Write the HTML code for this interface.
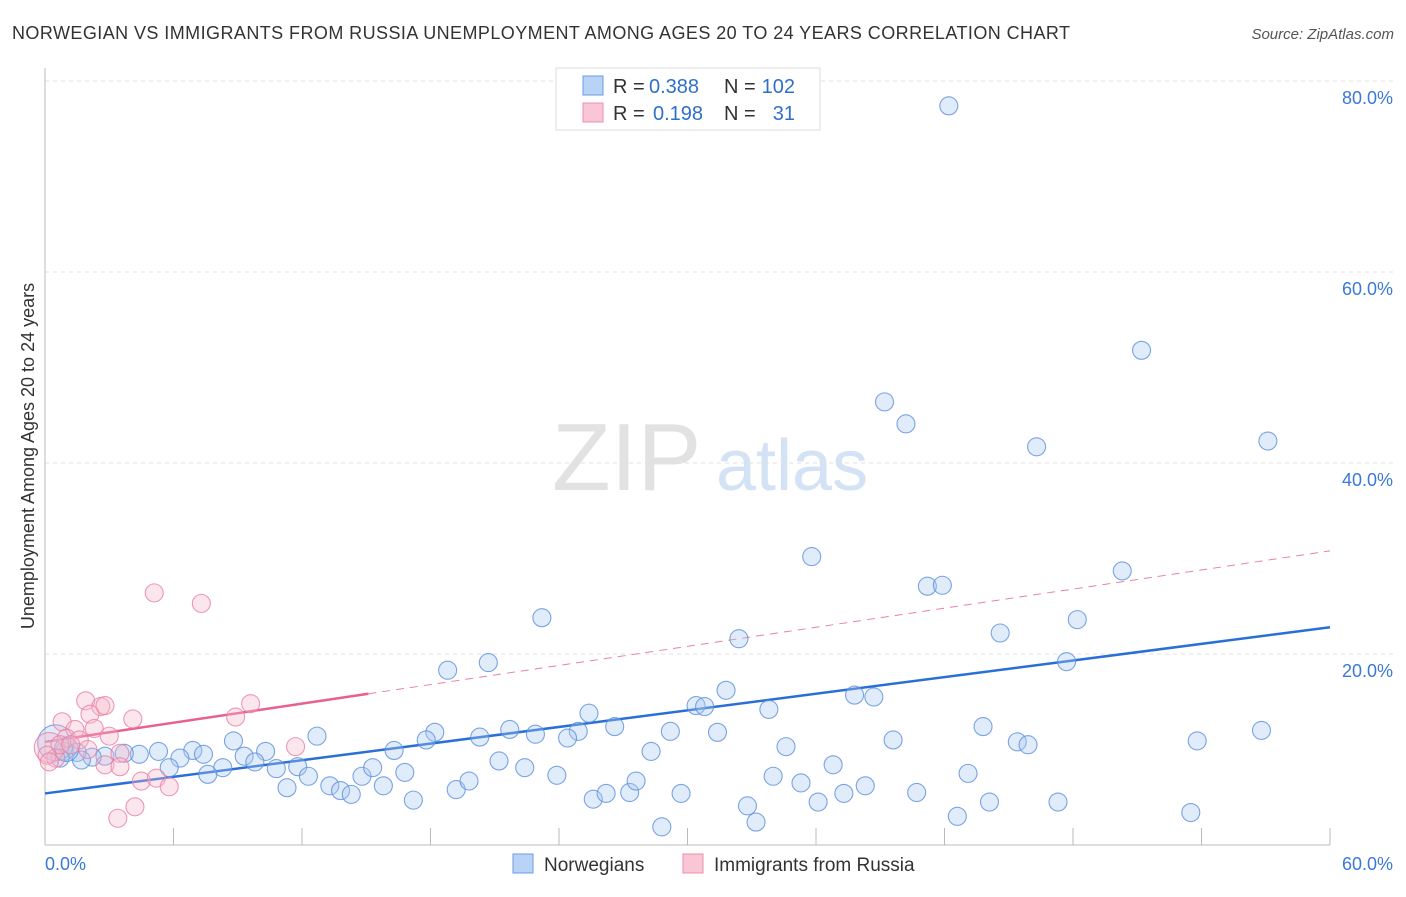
<!DOCTYPE html>
<html><head><meta charset="utf-8"><style>
body{margin:0;background:#fff;font-family:"Liberation Sans",sans-serif}
svg text{font-family:"Liberation Sans",sans-serif}
</style></head><body>
<svg width="1406" height="892" xmlns="http://www.w3.org/2000/svg">
<text x="12" y="39" font-size="18" fill="#333" textLength="1058">NORWEGIAN VS IMMIGRANTS FROM RUSSIA UNEMPLOYMENT AMONG AGES 20 TO 24 YEARS CORRELATION CHART</text>
<text x="1394" y="39" font-size="15" fill="#555" font-style="italic" text-anchor="end">Source: ZipAtlas.com</text>
<g>
<text x="552" y="490" font-size="96" font-family="Liberation Serif" fill="#e2e2e2">ZIP</text>
<text x="716" y="490" font-size="72" fill="#d4e2f5">atlas</text>
</g>
<g id="grid"></g>
<g id="axes"></g>
<g id="trends"></g>
<g id="pts"></g>
<text transform="translate(34,456) rotate(-90)" font-size="18" fill="#333" text-anchor="middle">Unemployment Among Ages 20 to 24 years</text>
<g>
<rect x="556" y="68" width="264" height="62" fill="#fff" stroke="#ddd"/>
<rect x="583" y="76" width="20" height="19" fill="#b8d3f5" stroke="#6a9ee6"/>
<rect x="583" y="103" width="20" height="19" fill="#f9c6d5" stroke="#ee8fae"/>
<text x="613" y="93" font-size="20" fill="#333">R =</text>
<text x="649" y="93" font-size="20" fill="#2f6fcc">0.388</text>
<text x="724" y="93" font-size="20" fill="#333">N =</text>
<text x="795" y="93" font-size="20" fill="#2f6fcc" text-anchor="end">102</text>
<text x="613" y="120" font-size="20" fill="#333">R =</text>
<text x="653" y="120" font-size="20" fill="#2f6fcc">0.198</text>
<text x="724" y="120" font-size="20" fill="#333">N =</text>
<text x="795" y="120" font-size="20" fill="#2f6fcc" text-anchor="end">31</text>
</g>
<g>
<rect x="513" y="854" width="20" height="19" fill="#b8d3f5" stroke="#6a9ee6"/>
<text x="544" y="871" font-size="19" fill="#333">Norwegians</text>
<rect x="683" y="854" width="20" height="19" fill="#f9c6d5" stroke="#ee8fae"/>
<text x="714" y="871" font-size="19" fill="#333">Immigrants from Russia</text>
</g>
</svg>
<script>
const blueX=[42.2,51.2,39.2,40.2,46.3,57.1,35.8,41.2,41.9,50.3,23.2,32.4,44.6,48.2,47.7,18.8,20.7,31.8,30.4,30.8,33.8,37.8,38.7,25.4,43.8,56.8,26.6,29.2,31.4,24.9,21.7,18.2,22.9,20.3,17.8,24.4,12.7,39.6,45.4,45.9,53.8,16.3,28.3,34.6,8.8,10.3,6.9,5.3,4.4,7.4,9.3,3.7,2.8,2.2,1.5,0.9,0.5,0.7,6.3,1.7,9.8,5.8,8.3,7.6,10.8,11.8,12.3,11.3,13.3,13.8,14.3,14.8,15.3,15.8,16.8,17.2,19.2,19.8,21.2,22.4,23.9,25.6,26.2,27.3,27.6,28.8,29.7,32.8,33.2,34.0,35.3,36.1,36.8,37.3,38.3,40.7,42.6,43.1,44.1,47.3,53.5,1.0];
const blueY=[77.4,51.8,46.4,44.1,41.7,42.3,30.2,27.1,27.2,28.7,23.8,21.6,22.2,23.6,19.2,18.3,19.1,16.2,14.6,14.5,14.2,15.7,15.5,13.8,12.4,12.0,12.4,11.9,11.8,11.9,12.1,11.8,11.6,11.3,11.0,11.2,11.4,11.0,10.8,10.5,10.9,9.9,9.8,10.3,10.9,9.8,9.9,9.8,9.5,9.5,9.3,9.6,9.3,9.2,9.7,9.8,10.7,9.1,9.1,8.9,8.7,8.1,8.1,7.4,8.0,8.2,7.2,6.0,6.2,5.7,5.3,7.2,8.1,6.2,7.6,4.7,5.8,6.7,8.8,8.1,7.3,4.8,5.4,5.5,6.7,1.9,5.4,4.1,2.4,7.2,6.5,4.5,8.4,5.4,6.2,5.5,3.0,7.5,4.5,4.5,3.4,10.0];
const blueR=[9,9,9,9,9,9,9,9,9,9,9,9,9,9,9,9,9,9,9,9,9,9,9,9,9,9,9,9,9,9,9,9,9,9,9,9,9,9,9,9,9,9,9,9,9,9,9,9,9,9,9,9,9,9,9,9,18,9,9,9,9,9,9,9,9,9,9,9,9,9,9,9,9,9,9,9,9,9,9,9,9,9,9,9,9,9,9,9,9,9,9,9,9,9,9,9,9,9,9,9,9,12];
const pinkX=[5.1,7.3,1.9,2.6,2.8,2.1,4.1,0.8,1.4,2.3,8.9,9.6,3.0,1.0,1.6,11.7,3.5,0.2,0.5,2.8,3.5,4.5,5.2,5.8,4.2,3.4,0.7,1.2,0.1,2.0,0.2];
const pinkY=[26.4,25.3,15.1,14.5,14.6,13.7,13.2,12.9,12.1,12.2,13.4,14.8,11.4,11.2,11.0,10.3,9.6,10.2,9.1,8.4,8.2,6.7,7.0,6.1,4.0,2.8,10.5,10.5,9.4,10.0,8.7];
const pinkR=[9,9,9,9,9,9,9,9,9,9,9,9,9,9,9,9,9,15,9,9,9,9,9,9,9,9,9,9,9,9,9];
const blueTrend=[5.4,22.8];
const pinkTrend=[10.8,30.8];
const pinkSolidEnd=15.1;
const yTicks=[20,40,60,80];
const yTickLabels=["20.0%","40.0%","60.0%","80.0%"];
const xTicks=[0,6,12,18,24,30,36,42,48,54,60];
const xTickLabels=["0.0%","60.0%"];
const NS='http://www.w3.org/2000/svg';
const X=v=>45+v/60*1285, Y=v=>845-v*9.55;
function mk(p,t,a){const e=document.createElementNS(NS,t);for(const k in a)e.setAttribute(k,a[k]);document.getElementById(p).appendChild(e);return e;}
yTicks.forEach((t,i)=>{
 let l=mk('grid','line',{x1:45,x2:1395,y1:Y(t),y2:Y(t),stroke:'#e2e2e2','stroke-dasharray':'4,4'});
 
 
 let tx=mk('grid','text',{x:1393,y:Y(t)+23,'font-size':18,fill:'#3b78d8','text-anchor':'end'});tx.textContent=yTickLabels[i];
 
 
});
let ax=mk('axes','line',{x1:45,x2:45,y1:68,y2:845,stroke:'#bbb'});


let bx=mk('axes','line',{x1:45,x2:1330,y1:845,y2:845,stroke:'#bbb'});


xTicks.forEach(t=>{let l=mk('axes','line',{x1:X(t),x2:X(t),y1:828,y2:845,stroke:'#bbb'});
 
 });
[[0,'start'],[60,'end']].forEach((p,i)=>{let tx=mk('axes','text',{x:i?1393:45,y:870,'font-size':18,fill:'#3b78d8','text-anchor':p[1]});tx.textContent=xTickLabels[i];
 
 });
function dots(xs,ys,rs,f,s,n){xs.forEach((x,i)=>{let c=mk('pts','circle',{cx:X(x),cy:Y(ys[i]),r:rs[i],fill:f,'fill-opacity':0.35,stroke:s,'stroke-opacity':0.8,'stroke-width':1.1});
 
 });}
dots(blueX,blueY,blueR,'#a9c8f0','#5b8fdc','norwegian-point');
dots(pinkX,pinkY,pinkR,'#f7b8cb','#ea7fa2','russia-point');
let bt=mk('trends','line',{x1:X(0),y1:Y(blueTrend[0]),x2:X(60),y2:Y(blueTrend[1]),stroke:'#2a6fd6','stroke-width':2.5});


const pe=pinkTrend[0]+(pinkTrend[1]-pinkTrend[0])*pinkSolidEnd/60;
let pt=mk('trends','line',{x1:X(0),y1:Y(pinkTrend[0]),x2:X(pinkSolidEnd),y2:Y(pe),stroke:'#e8608e','stroke-width':2.5});


let pd=mk('trends','line',{x1:X(pinkSolidEnd),y1:Y(pe),x2:X(60),y2:Y(pinkTrend[1]),stroke:'#e8839f','stroke-width':1,'stroke-dasharray':'8,6'});


</script>
</body></html>
